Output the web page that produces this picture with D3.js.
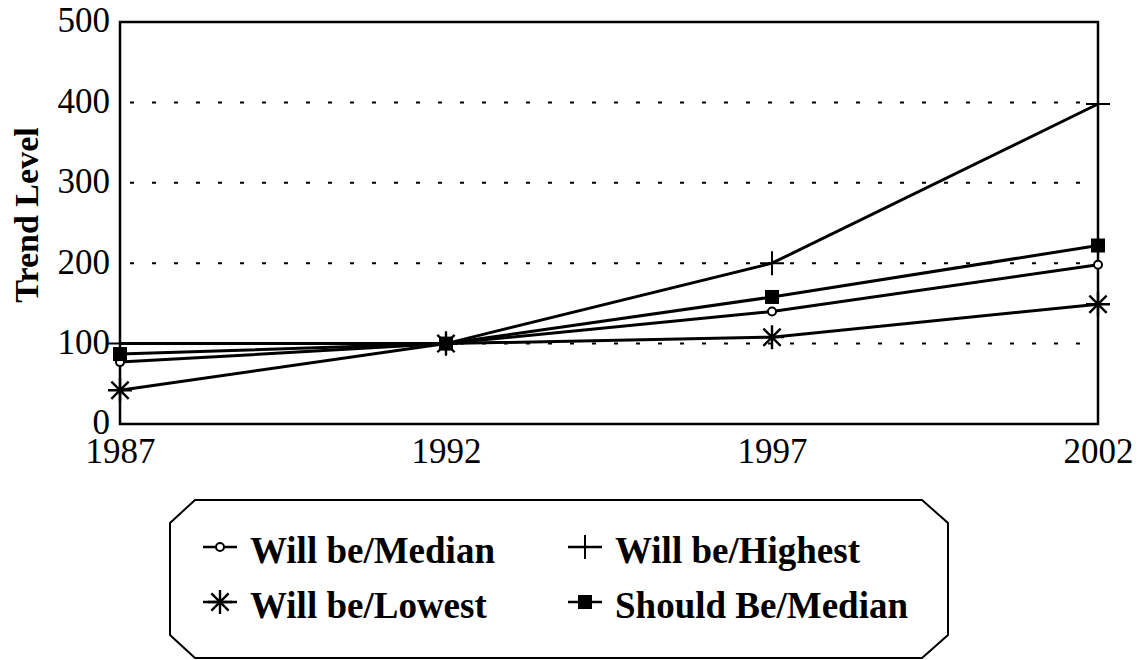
<!DOCTYPE html>
<html>
<head>
    <title>Trend Level</title>
    <script src="https://d3js.org/d3.v7.min.js"></script>
    <style>
        body { margin: 0; background: #fff; }
        svg text { font-family: "Liberation Serif", "DejaVu Serif", serif; fill: #000; }
    </style>
</head>
<body>
    <div id="chart"></div>
    <script>
        // Data
        const years = [1987, 1992, 1997, 2002];
        const willBeMedian = [77, 100, 140, 198];
        const willBeHighest = [100, 100, 200, 398];
        const willBeLowest = [42, 100, 108, 149];
        const shouldBeMedian = [87, 100, 158, 222];
        const yTicks = [0, 100, 200, 300, 400, 500];
        const gridValues = [100, 200, 300, 400];
        const seriesNames = ["Will be/Median", "Will be/Highest", "Will be/Lowest", "Should Be/Median"];

        const width = 1145;
        const height = 660;
        const margin = { left: 120, right: 47, top: 22, bottom: 236 };

        const svg = d3.select("#chart")
            .append("svg")
            .attr("width", width)
            .attr("height", height);

        const x = d3.scaleLinear()
            .domain([1987, 2002])
            .range([margin.left, width - margin.right]);
        const y = d3.scaleLinear()
            .domain([0, 500])
            .range([height - margin.bottom, margin.top]);

        // dotted grid
        svg.append("g")
            .selectAll("line")
            .data(gridValues)
            .enter()
            .append("line")
            .attr("x1", x(1987) + 10)
            .attr("x2", x(2002))
            .attr("y1", d => y(d))
            .attr("y2", d => y(d))
            .style("stroke", "#000")
            .style("stroke-width", 2)
            .style("stroke-dasharray", "4,18");

        // frame
        svg.append("rect")
            .attr("x", x(1987))
            .attr("y", y(500))
            .attr("width", x(2002) - x(1987))
            .attr("height", y(0) - y(500))
            .style("fill", "none")
            .style("stroke", "#000")
            .style("stroke-width", 2.5);

        // axes
        const yAxis = svg.append("g")
            .attr("transform", "translate(" + x(1987) + ",0)")
            .call(d3.axisLeft(y).tickValues(yTicks).tickSize(0).tickPadding(10));
        const xAxis = svg.append("g")
            .attr("transform", "translate(0," + y(0) + ")")
            .call(d3.axisBottom(x).tickValues(years).tickFormat(d3.format("d")).tickSize(0).tickPadding(14));
        [yAxis, xAxis].forEach(g => {
            g.select(".domain").remove();
            g.selectAll("text")
                .style("font-size", "35px")
                .style("font-family", "'Liberation Serif', serif")
                .style("fill", "#000");
        });
        yAxis.selectAll("text").attr("dy", "0.28em");

        svg.append("text")
            .attr("transform", "translate(38,215) rotate(-90)")
            .attr("text-anchor", "middle")
            .style("font-size", "34px")
            .style("font-weight", "bold")
            .text("Trend Level");

        // marker drawers
        function drawMarker(g, type, cx, cy) {
            if (type === 0) {
                g.append("circle").attr("cx", cx).attr("cy", cy).attr("r", 4)
                    .style("fill", "#fff").style("stroke", "#000").style("stroke-width", 2);
            } else if (type === 1) {
                g.append("path")
                    .attr("d", `M${cx - 12},${cy}H${cx + 12}M${cx},${cy - 12}V${cy + 12}`)
                    .style("stroke", "#000").style("stroke-width", 2).style("fill", "none");
            } else if (type === 2) {
                const r = 12, k = r * 0.72;
                g.append("path")
                    .attr("d", `M${cx - r},${cy}H${cx + r}M${cx},${cy - r}V${cy + r}` +
                        `M${cx - k},${cy - k}L${cx + k},${cy + k}M${cx - k},${cy + k}L${cx + k},${cy - k}`)
                    .style("stroke", "#000").style("stroke-width", 2.4).style("fill", "none");
            } else {
                g.append("rect").attr("x", cx - 7).attr("y", cy - 7).attr("width", 14).attr("height", 14)
                    .style("fill", "#000");
            }
        }

        const allSeries = [willBeMedian, willBeHighest, willBeLowest, shouldBeMedian];
        const line = d3.line()
            .x((d, i) => x(years[i]))
            .y(d => y(d));

        const lines = svg.append("g");
        allSeries.forEach(s => {
            lines.append("path")
                .datum(s)
                .attr("d", line)
                .style("fill", "none")
                .style("stroke", "#000")
                .style("stroke-width", 3);
        });
        allSeries.forEach((s, si) => {
            s.forEach((v, i) => drawMarker(lines, si, x(years[i]), y(v)));
        });

        // legend box (chamfered)
        const lg = svg.append("g");
        lg.append("path")
            .attr("d", "M195,500H922L948,523V635L922,658H195L170,635V523Z")
            .style("fill", "#fff")
            .style("stroke", "#000")
            .style("stroke-width", 2);

        const legendPos = [
            { mx: 220, my: 547, tx: 250, ty: 563 },
            { mx: 585, my: 547, tx: 615, ty: 563 },
            { mx: 220, my: 602, tx: 250, ty: 618 },
            { mx: 585, my: 602, tx: 615, ty: 618 }
        ];
        seriesNames.forEach((name, i) => {
            const p = legendPos[i];
            lg.append("line")
                .attr("x1", p.mx - 17).attr("x2", p.mx + 17)
                .attr("y1", p.my).attr("y2", p.my)
                .style("stroke", "#000").style("stroke-width", 2.5);
            drawMarker(lg, i, p.mx, p.my);
            lg.append("text")
                .attr("x", p.tx)
                .attr("y", p.ty)
                .style("font-size", "37px")
                .style("font-weight", "bold")
                .text(name);
        });
    </script>
</body>
</html>
